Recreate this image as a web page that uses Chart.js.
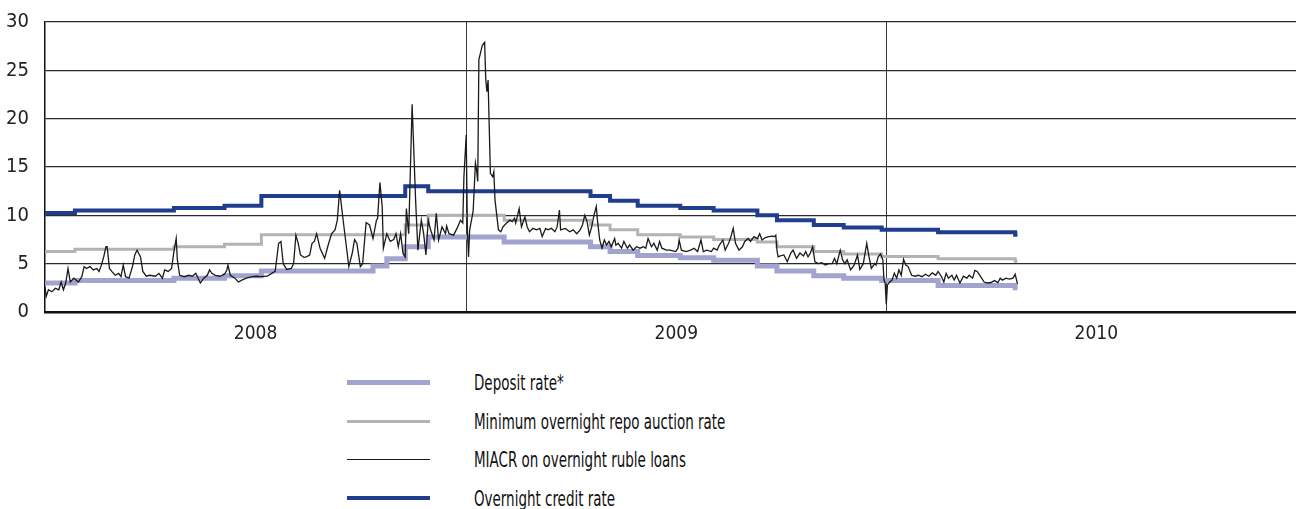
<!DOCTYPE html>
<html>
<head>
<meta charset="utf-8">
<script src="https://cdn.jsdelivr.net/npm/chart.js@4.4.0/dist/chart.umd.min.js"></script>
<style>
  html, body { margin: 0; padding: 0; background: #fff; }
  body { width: 1296px; height: 509px; position: relative; overflow: hidden; }
  #wrap { position: absolute; left: 0; top: 0; width: 1296px; height: 350px; }
  #legend { position: absolute; left: 347px; top: 363px; font-family: 'Liberation Sans Narrow', 'DejaVu Sans Condensed', sans-serif; font-size: 22px; color: #111; }
  #legend .row { height: 38.7px; display: flex; align-items: center; white-space: nowrap; }
  #legend .swatch { width: 83px; margin-right: 44px; }
  #legend .txt { display: inline-block; transform: scaleX(0.68); transform-origin: left center; }
</style>
</head>
<body>
<div id="wrap"><canvas id="ratesChart"></canvas></div>
<div id="legend"></div>
<script>
// x values are days counted from 1 Jan 2008
var yearStart = [0, 366, 731, 1096];
var yearLabels = ['2008', '2009', '2010'];
var yTicks = [0, 5, 10, 15, 20, 25, 30];

// policy rates: day the rate changed and the new level
var depositDay  = [0, 26, 112, 156, 188, 285, 297, 313, 333, 399, 474, 491, 515, 552, 581, 619, 636, 668, 694, 727, 776, 810, 843, 845];
var depositRate = [2.75, 3.0, 3.25, 3.5, 3.75, 4.25, 4.75, 5.5, 6.75, 7.75, 7.25, 6.75, 6.25, 5.85, 5.6, 5.35, 4.75, 4.25, 3.75, 3.5, 3.25, 2.75, 2.75, 2.5];

var repoDay  = [0, 26, 112, 156, 188, 313, 333, 399, 474, 491, 515, 552, 581, 619, 636, 668, 694, 727, 776, 810, 843, 845];
var repoRate = [6.0, 6.25, 6.5, 6.75, 7.0, 8.0, 9.0, 10.0, 9.5, 9.0, 8.5, 8.0, 7.75, 7.5, 7.25, 6.75, 6.25, 6.0, 5.75, 5.5, 5.5, 5.25];

var creditDay  = [0, 26, 112, 156, 188, 313, 333, 474, 491, 515, 552, 581, 619, 636, 668, 694, 727, 776, 810, 843, 845];
var creditRate = [10.0, 10.25, 10.5, 10.75, 11.0, 12.0, 13.0, 12.5, 12.0, 11.5, 11.0, 10.75, 10.5, 10.0, 9.5, 9.0, 8.75, 8.5, 8.25, 8.25, 8.0];

// MIACR overnight
var miacrDay = [0, 1, 3, 6, 9, 12, 14, 16, 18, 20, 22, 25, 29, 32, 34, 36, 39, 42, 45, 47, 49, 51, 53, 54, 56, 58, 61, 64, 66, 68,
  70, 73, 76, 78, 80, 83, 85, 88, 91, 96, 99, 102, 104, 107, 110, 112, 114, 115, 117, 121, 125, 128, 131, 135, 138, 141, 143, 145, 148, 152,
  156, 158, 159, 161, 165, 168, 171, 175, 180, 184, 187, 193, 197, 200, 203, 205, 207, 210, 214, 216, 218, 220, 222, 225, 227, 230, 232, 234, 236, 239,
  243, 246, 249, 252, 254, 256, 258, 261, 264, 267, 269, 271, 274, 276, 279, 282, 285, 288, 289, 291, 293, 294, 297, 300, 303, 305, 307, 309, 311, 313,
  314, 316, 319, 322, 324, 327, 329, 331, 333, 335, 338, 340, 342, 345, 348, 349, 351, 355, 358, 361, 363, 364, 366, 367, 368, 369, 372, 374, 375, 376,
  377, 380, 382, 383, 384, 385, 387, 389, 390, 391, 394, 396, 398, 401, 404, 406, 408, 409, 412, 414, 417, 419, 421, 424, 427, 430, 432, 435, 437, 440,
  443, 445, 447, 448, 452, 456, 459, 462, 465, 467, 469, 471, 473, 475, 477, 479, 480, 482, 484, 486, 488, 490, 492, 495, 496, 498, 501, 503, 506, 508,
  511, 514, 517, 520, 522, 524, 527, 529, 532, 534, 536, 540, 543, 548, 550, 551, 553, 557, 561, 564, 567, 570, 572, 575, 579, 581, 584, 586, 589, 591,
  594, 596, 598, 600, 603, 606, 608, 611, 613, 616, 619, 621, 623, 626, 629, 632, 634, 635, 636, 637, 639, 642, 645, 648, 650, 653, 656, 659, 661, 663,
  665, 667, 669, 672, 675, 678, 681, 684, 686, 688, 691, 693, 695, 697, 700, 703, 706, 708, 711, 714, 716, 718, 721, 722, 724, 726, 728, 729, 730, 731,
  732, 734, 736, 738, 740, 742, 744, 746, 748, 750, 753, 756, 759, 762, 765, 768, 771, 774, 776, 779, 781, 783, 785, 788, 790, 792, 795, 798, 801, 803,
  806, 808, 810, 813, 816, 819, 822, 825, 828, 830, 832, 835, 838, 841, 843, 845];
var miacrRate = [2.6, 1.6, 2.3, 2.1, 2.45, 2.3, 3.1, 2.3, 3.0, 4.5, 3.1, 3.5, 3.1, 3.65, 4.7, 4.5, 4.7, 4.35, 4.5, 4.2, 4.85, 5.7, 6.75, 6.75, 4.5, 4.2, 3.8, 4.0, 3.65, 4.85,
  3.65, 3.5, 4.7, 5.9, 6.4, 5.7, 4.2, 3.7, 3.8, 3.7, 4.0, 3.5, 4.35, 4.2, 4.5, 6.25, 7.6, 5.4, 3.8, 3.65, 3.8, 3.7, 4.0, 3.0, 3.5, 3.8, 4.35, 4.0, 3.8, 3.7,
  3.9, 4.35, 4.85, 3.8, 3.5, 3.1, 3.3, 3.5, 3.65, 3.7, 3.65, 3.7, 4.0, 4.2, 7.1, 7.3, 5.0, 4.4, 4.5, 5.0, 7.95, 7.1, 5.9, 5.65, 5.7, 5.9, 7.1, 7.3, 8.1, 6.6,
  5.55, 6.9, 8.1, 8.5, 9.5, 12.6, 10.55, 7.6, 4.7, 6.1, 7.5, 7.1, 4.7, 5.0, 9.25, 9.0, 7.6, 9.5, 9.7, 13.4, 10.9, 6.6, 8.1, 7.3, 7.5, 8.1, 6.75, 8.1, 6.1, 5.7,
  10.7, 8.1, 21.5, 11.6, 6.4, 9.5, 8.1, 5.9, 9.5, 8.5, 7.45, 10.2, 7.45, 8.8, 8.1, 8.9, 8.1, 7.95, 8.65, 9.5, 9.2, 14.0, 18.3, 8.5, 5.7, 8.5, 10.4, 15.4, 14.7, 13.5,
  26.1, 27.6, 27.9, 24.0, 22.8, 24.0, 14.35, 14.0, 14.5, 11.6, 8.5, 8.3, 8.8, 9.2, 9.5, 9.35, 9.7, 9.2, 10.7, 8.8, 9.85, 8.8, 8.3, 8.65, 8.5, 8.65, 7.8, 8.65, 8.5, 8.65,
  8.3, 8.8, 10.55, 8.5, 8.65, 8.3, 8.5, 8.1, 8.5, 9.0, 10.0, 9.35, 7.95, 8.8, 10.0, 10.9, 9.5, 7.45, 6.6, 7.45, 6.93, 7.3, 6.75, 7.6, 6.93, 7.1, 6.6, 7.3, 6.6, 6.93,
  6.4, 6.75, 6.6, 6.75, 6.6, 7.6, 6.75, 7.1, 6.4, 7.3, 6.6, 6.4, 6.4, 6.25, 6.6, 7.45, 6.4, 6.25, 6.4, 6.6, 6.25, 7.45, 6.25, 6.4, 6.25, 6.6, 6.4, 6.93, 7.45, 6.4,
  7.1, 7.8, 8.65, 7.1, 6.4, 6.75, 7.3, 7.6, 7.3, 7.8, 7.6, 8.1, 7.45, 7.7, 7.8, 7.85, 7.8, 7.95, 6.4, 5.7, 5.8, 5.9, 5.2, 6.1, 6.4, 5.55, 6.1, 5.8, 6.25, 5.7,
  6.1, 6.75, 5.2, 5.0, 5.1, 4.85, 5.0, 5.0, 5.55, 5.0, 6.4, 5.4, 5.0, 5.4, 4.35, 4.85, 5.9, 4.4, 5.0, 7.1, 5.7, 4.5, 5.0, 4.85, 5.7, 6.0, 5.4, 3.3, 3.0, 0.8,
  2.8, 3.1, 3.3, 4.0, 3.5, 4.35, 3.8, 5.45, 4.85, 4.7, 3.8, 3.7, 3.8, 3.65, 3.9, 3.7, 4.05, 3.8, 4.2, 3.65, 3.1, 4.0, 3.5, 3.8, 3.3, 3.8, 3.0, 3.7, 3.5, 3.8,
  3.5, 4.3, 4.2, 3.65, 3.1, 3.0, 3.05, 3.25, 3.05, 3.5, 3.3, 3.5, 3.4, 3.5, 3.9, 2.9];

var seriesNames = ['Deposit rate*', 'Minimum overnight repo auction rate', 'MIACR on overnight ruble loans', 'Overnight credit rate'];

function toPoints(days, vals) {
  return days.map(function(d, i) { return { x: d, y: vals[i] }; });
}

var fontFamily = "'Liberation Sans Narrow', 'DejaVu Sans Condensed', sans-serif";

// builds the vertical legend under the chart
var htmlLegend = {
  id: 'htmlLegend',
  afterUpdate: function(chart) {
    var box = document.getElementById('legend');
    box.innerHTML = '';
    chart.data.datasets.forEach(function(ds) {
      var row = document.createElement('div');
      row.className = 'row';
      var sw = document.createElement('span');
      sw.className = 'swatch';
      sw.style.height = ds.legendWidth + 'px';
      sw.style.background = ds.borderColor;
      var t = document.createElement('span');
      t.className = 'txt';
      t.textContent = ds.label;
      row.appendChild(sw);
      row.appendChild(t);
      box.appendChild(row);
    });
  }
};

var ctx = document.getElementById('ratesChart').getContext('2d');
new Chart(ctx, {
  type: 'line',
  data: {
    datasets: [
      { label: seriesNames[0], data: toPoints(depositDay, depositRate), borderColor: '#a3a3cf', borderWidth: 5, stepped: 'after', order: 3, legendWidth: 5 },
      { label: seriesNames[1], data: toPoints(repoDay, repoRate), borderColor: '#b3b3b3', borderWidth: 3, stepped: 'after', order: 2, legendWidth: 3 },
      { label: seriesNames[2], data: toPoints(miacrDay, miacrRate), borderColor: '#1a1a1a', borderWidth: 1.3, order: 0, legendWidth: 1.5 },
      { label: seriesNames[3], data: toPoints(creditDay, creditRate), borderColor: '#203d8e', borderWidth: 4, stepped: 'after', order: 1, legendWidth: 4 }
    ]
  },
  options: {
    responsive: true,
    maintainAspectRatio: false,
    animation: false,
    layout: { padding: { top: 22, left: 0, right: 0, bottom: 0 } },
    elements: { point: { radius: 0, hoverRadius: 0 }, line: { tension: 0, borderCapStyle: 'butt' } },
    plugins: { legend: { display: false }, tooltip: { enabled: false } },
    scales: {
      x: {
        type: 'linear',
        min: 0,
        max: 1087,
        afterBuildTicks: function(axis) {
          var t = [];
          for (var i = 0; i < yearLabels.length; i++) {
            t.push({ value: (yearStart[i] + yearStart[i + 1]) / 2 });
            if (i > 0) t.push({ value: yearStart[i] });
          }
          t.sort(function(a, b) { return a.value - b.value; });
          axis.ticks = t;
        },
        afterFit: function(scale) {
          scale.height = 38;
          scale.paddingLeft = 0;
          scale.paddingRight = 0;
        },
        ticks: {
          autoSkip: false,
          maxRotation: 0,
          padding: 11,
          color: '#222',
          font: { family: fontFamily, size: 19 },
          callback: function(value) {
            for (var k = 0; k < yearLabels.length; k++) {
              if (value === (yearStart[k] + yearStart[k + 1]) / 2) return yearLabels[k];
            }
            return '';
          }
        },
        grid: {
          drawTicks: false,
          lineWidth: 1,
          color: function(c) {
            return (c.tick && yearStart.indexOf(c.tick.value) >= 0) ? '#3a3a3a' : 'rgba(0,0,0,0)';
          }
        },
        border: { display: true, color: '#111', width: 2.5 }
      },
      y: {
        min: 0,
        max: 30,
        afterBuildTicks: function(axis) {
          axis.ticks = yTicks.map(function(v) { return { value: v }; });
        },
        afterFit: function(scale) {
          scale.width = 45;
          scale.paddingTop = 0;
          scale.paddingBottom = 0;
        },
        ticks: {
          padding: 16,
          color: '#222',
          font: { family: fontFamily, size: 20 }
        },
        grid: { drawTicks: false, color: '#2a2a2a', lineWidth: 1.2 },
        border: { display: true, color: '#111', width: 1.5 }
      }
    }
  },
  plugins: [htmlLegend]
});
</script>
</body>
</html>
